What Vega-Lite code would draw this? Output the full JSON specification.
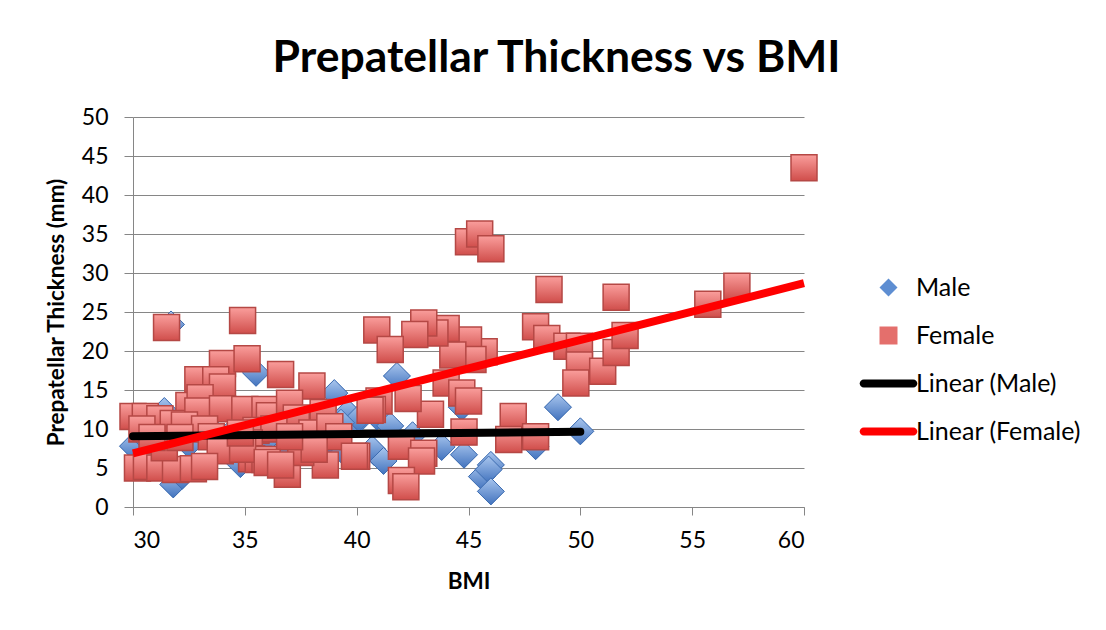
{
  "$schema": "https://vega.github.io/schema/vega-lite/v6.json",
  "autosize": {"type": "none"},
  "padding": {"left": 133, "top": 117, "right": 302, "bottom": 123},
  "width": 671,
  "height": 390,
  "background": "white",
  "config": {
    "view": {"stroke": null},
    "font": "Lato",
    "axis": {
      "domainColor": "#868686",
      "tickColor": "#868686",
      "gridColor": "#868686",
      "labelColor": "#000000",
      "labelFont": "Lato",
      "labelFontSize": 23,
      "titleFont": "Lato",
      "titleFontWeight": "bold",
      "titleFontSize": 22.5,
      "titleColor": "#000000"
    },
    "legend": {
      "symbolSize": 324,
      "symbolStrokeWidth": 0,
      "symbolOpacity": 1,
      "labelFont": "Lato",
      "labelFontSize": 25,
      "labelColor": "#000000",
      "labelOffset": 15,
      "labelLimit": 400,
      "rowPadding": 22,
      "padding": 0
    }
  },
  "title": {
    "text": "Prepatellar Thickness vs BMI",
    "font": "Lato",
    "fontSize": 44.5,
    "fontWeight": "bold",
    "color": "#000000",
    "anchor": "middle",
    "frame": "group",
    "baseline": "alphabetic",
    "offset": 45,
    "dx": 88,
    "dy": 55
  },
  "datasets": {
    "male": [
      {"series": "Male", "BMI": 30.0, "thickness": 7.8},
      {"series": "Male", "BMI": 31.7, "thickness": 23.4},
      {"series": "Male", "BMI": 31.4, "thickness": 12.3},
      {"series": "Male", "BMI": 31.8, "thickness": 2.9},
      {"series": "Male", "BMI": 32.2, "thickness": 4.0},
      {"series": "Male", "BMI": 34.8, "thickness": 6.1},
      {"series": "Male", "BMI": 34.8, "thickness": 5.5},
      {"series": "Male", "BMI": 35.5, "thickness": 17.2},
      {"series": "Male", "BMI": 39.0, "thickness": 14.6},
      {"series": "Male", "BMI": 39.6, "thickness": 12.1},
      {"series": "Male", "BMI": 39.9, "thickness": 10.6},
      {"series": "Male", "BMI": 40.1, "thickness": 11.4},
      {"series": "Male", "BMI": 40.9, "thickness": 11.6},
      {"series": "Male", "BMI": 39.3, "thickness": 10.8},
      {"series": "Male", "BMI": 39.3, "thickness": 7.4},
      {"series": "Male", "BMI": 40.8, "thickness": 7.0},
      {"series": "Male", "BMI": 40.7, "thickness": 7.4},
      {"series": "Male", "BMI": 41.2, "thickness": 5.9},
      {"series": "Male", "BMI": 41.5, "thickness": 10.4},
      {"series": "Male", "BMI": 41.8, "thickness": 16.8},
      {"series": "Male", "BMI": 43.8, "thickness": 7.7},
      {"series": "Male", "BMI": 44.8, "thickness": 6.7},
      {"series": "Male", "BMI": 44.7, "thickness": 12.8},
      {"series": "Male", "BMI": 45.6, "thickness": 3.9},
      {"series": "Male", "BMI": 46.0, "thickness": 5.4},
      {"series": "Male", "BMI": 45.9, "thickness": 4.8},
      {"series": "Male", "BMI": 46.0, "thickness": 2.0},
      {"series": "Male", "BMI": 48.0, "thickness": 7.8},
      {"series": "Male", "BMI": 49.0, "thickness": 12.8},
      {"series": "Male", "BMI": 50.0, "thickness": 9.7},
      {"series": "Male", "BMI": 30.5, "thickness": 9.0},
      {"series": "Male", "BMI": 31.0, "thickness": 6.0},
      {"series": "Male", "BMI": 32.5, "thickness": 8.0},
      {"series": "Male", "BMI": 33.5, "thickness": 10.0},
      {"series": "Male", "BMI": 34.2, "thickness": 9.0},
      {"series": "Male", "BMI": 36.0, "thickness": 8.5},
      {"series": "Male", "BMI": 37.5, "thickness": 9.5},
      {"series": "Male", "BMI": 38.2, "thickness": 10.5},
      {"series": "Male", "BMI": 36.8, "thickness": 7.5},
      {"series": "Male", "BMI": 33.0, "thickness": 11.5},
      {"series": "Male", "BMI": 38.8, "thickness": 8.7},
      {"series": "Male", "BMI": 42.5, "thickness": 9.2}
    ],
    "female": [
      {"series": "Female", "BMI": 60.0, "thickness": 43.5},
      {"series": "Female", "BMI": 57.0, "thickness": 28.3},
      {"series": "Female", "BMI": 55.7, "thickness": 26.0},
      {"series": "Female", "BMI": 51.6, "thickness": 26.9},
      {"series": "Female", "BMI": 48.6, "thickness": 27.9},
      {"series": "Female", "BMI": 48.0, "thickness": 23.1},
      {"series": "Female", "BMI": 48.5, "thickness": 21.6},
      {"series": "Female", "BMI": 49.4, "thickness": 20.6},
      {"series": "Female", "BMI": 49.96, "thickness": 20.6},
      {"series": "Female", "BMI": 49.96, "thickness": 18.2},
      {"series": "Female", "BMI": 49.8, "thickness": 15.9},
      {"series": "Female", "BMI": 51.0, "thickness": 17.4},
      {"series": "Female", "BMI": 51.6, "thickness": 19.8},
      {"series": "Female", "BMI": 52.0, "thickness": 22.0},
      {"series": "Female", "BMI": 45.0, "thickness": 34.0},
      {"series": "Female", "BMI": 45.5, "thickness": 35.0},
      {"series": "Female", "BMI": 46.0, "thickness": 33.1},
      {"series": "Female", "BMI": 45.7, "thickness": 19.9},
      {"series": "Female", "BMI": 45.0, "thickness": 21.4},
      {"series": "Female", "BMI": 45.2, "thickness": 18.9},
      {"series": "Female", "BMI": 44.3, "thickness": 19.5},
      {"series": "Female", "BMI": 44.0, "thickness": 22.9},
      {"series": "Female", "BMI": 43.5, "thickness": 22.3},
      {"series": "Female", "BMI": 43.0, "thickness": 23.6},
      {"series": "Female", "BMI": 42.6, "thickness": 22.1},
      {"series": "Female", "BMI": 40.9, "thickness": 22.7},
      {"series": "Female", "BMI": 41.5, "thickness": 20.2},
      {"series": "Female", "BMI": 44.0, "thickness": 15.9},
      {"series": "Female", "BMI": 44.7, "thickness": 14.6},
      {"series": "Female", "BMI": 45.0, "thickness": 13.6},
      {"series": "Female", "BMI": 43.3, "thickness": 11.9},
      {"series": "Female", "BMI": 42.3, "thickness": 13.9},
      {"series": "Female", "BMI": 41.0, "thickness": 13.6},
      {"series": "Female", "BMI": 40.7, "thickness": 12.5},
      {"series": "Female", "BMI": 44.8, "thickness": 9.6},
      {"series": "Female", "BMI": 47.0, "thickness": 11.6},
      {"series": "Female", "BMI": 46.8, "thickness": 8.65},
      {"series": "Female", "BMI": 48.0, "thickness": 9.0},
      {"series": "Female", "BMI": 42.0, "thickness": 7.8},
      {"series": "Female", "BMI": 43.0, "thickness": 6.9},
      {"series": "Female", "BMI": 42.9, "thickness": 5.9},
      {"series": "Female", "BMI": 42.0, "thickness": 3.4},
      {"series": "Female", "BMI": 42.2, "thickness": 2.6},
      {"series": "Female", "BMI": 40.0, "thickness": 6.5},
      {"series": "Female", "BMI": 38.6, "thickness": 5.4},
      {"series": "Female", "BMI": 31.5, "thickness": 23.0},
      {"series": "Female", "BMI": 34.9, "thickness": 23.9},
      {"series": "Female", "BMI": 34.0, "thickness": 18.4},
      {"series": "Female", "BMI": 35.1, "thickness": 19.0},
      {"series": "Female", "BMI": 36.6, "thickness": 17.0},
      {"series": "Female", "BMI": 38.0, "thickness": 15.5},
      {"series": "Female", "BMI": 32.9, "thickness": 16.3},
      {"series": "Female", "BMI": 33.7, "thickness": 16.3},
      {"series": "Female", "BMI": 34.0, "thickness": 15.4},
      {"series": "Female", "BMI": 32.5, "thickness": 13.0},
      {"series": "Female", "BMI": 33.0, "thickness": 14.0},
      {"series": "Female", "BMI": 30.0, "thickness": 11.6},
      {"series": "Female", "BMI": 30.55, "thickness": 11.6},
      {"series": "Female", "BMI": 31.2, "thickness": 11.3},
      {"series": "Female", "BMI": 31.8, "thickness": 10.7},
      {"series": "Female", "BMI": 32.9, "thickness": 12.3},
      {"series": "Female", "BMI": 34.0, "thickness": 12.6},
      {"series": "Female", "BMI": 35.0, "thickness": 12.5},
      {"series": "Female", "BMI": 35.9, "thickness": 12.5},
      {"series": "Female", "BMI": 36.1, "thickness": 11.7},
      {"series": "Female", "BMI": 37.0, "thickness": 13.3},
      {"series": "Female", "BMI": 37.3, "thickness": 11.4},
      {"series": "Female", "BMI": 38.5, "thickness": 12.1},
      {"series": "Female", "BMI": 40.6, "thickness": 12.4},
      {"series": "Female", "BMI": 30.4, "thickness": 10.0},
      {"series": "Female", "BMI": 32.3, "thickness": 10.5},
      {"series": "Female", "BMI": 33.2, "thickness": 10.0},
      {"series": "Female", "BMI": 33.5, "thickness": 9.0},
      {"series": "Female", "BMI": 35.5, "thickness": 9.8},
      {"series": "Female", "BMI": 36.3, "thickness": 10.0},
      {"series": "Female", "BMI": 38.0, "thickness": 9.5},
      {"series": "Female", "BMI": 38.8, "thickness": 10.3},
      {"series": "Female", "BMI": 37.7, "thickness": 8.0},
      {"series": "Female", "BMI": 39.2, "thickness": 9.0},
      {"series": "Female", "BMI": 35.2, "thickness": 8.2},
      {"series": "Female", "BMI": 33.9, "thickness": 7.2},
      {"series": "Female", "BMI": 30.2, "thickness": 5.0},
      {"series": "Female", "BMI": 30.6, "thickness": 5.2},
      {"series": "Female", "BMI": 31.2, "thickness": 5.0},
      {"series": "Female", "BMI": 31.9, "thickness": 4.8},
      {"series": "Female", "BMI": 32.7, "thickness": 4.9},
      {"series": "Female", "BMI": 33.2, "thickness": 5.2},
      {"series": "Female", "BMI": 31.4, "thickness": 7.6},
      {"series": "Female", "BMI": 32.1, "thickness": 8.9},
      {"series": "Female", "BMI": 30.85, "thickness": 8.9},
      {"series": "Female", "BMI": 35.3, "thickness": 6.2},
      {"series": "Female", "BMI": 35.6, "thickness": 6.1},
      {"series": "Female", "BMI": 35.9, "thickness": 6.1},
      {"series": "Female", "BMI": 36.9, "thickness": 4.2},
      {"series": "Female", "BMI": 37.5, "thickness": 7.0},
      {"series": "Female", "BMI": 38.1, "thickness": 7.4},
      {"series": "Female", "BMI": 39.9, "thickness": 6.5},
      {"series": "Female", "BMI": 34.9, "thickness": 7.4},
      {"series": "Female", "BMI": 37.0, "thickness": 9.0},
      {"series": "Female", "BMI": 34.8, "thickness": 9.5},
      {"series": "Female", "BMI": 36.0, "thickness": 5.7},
      {"series": "Female", "BMI": 36.6, "thickness": 5.4}
    ],
    "trend": [
      {"series": "Linear (Male)", "BMI": 30, "thickness": 9.08},
      {"series": "Linear (Male)", "BMI": 50, "thickness": 9.64},
      {"series": "Linear (Female)", "BMI": 30, "thickness": 6.86},
      {"series": "Linear (Female)", "BMI": 60, "thickness": 28.7}
    ]
  },
  "encoding": {
    "x": {
      "field": "BMI",
      "type": "quantitative",
      "scale": {"domain": [30, 60], "nice": false, "zero": false},
      "axis": {
        "title": "BMI",
        "values": [30, 35, 40, 45, 50, 55, 60],
        "grid": false,
        "tickSize": 8,
        "labelPadding": 14,
        "titlePadding": 18
      }
    },
    "y": {
      "field": "thickness",
      "type": "quantitative",
      "scale": {"domain": [0, 50], "nice": false},
      "axis": {
        "title": "Prepatellar Thickness (mm)",
        "values": [0, 5, 10, 15, 20, 25, 30, 35, 40, 45, 50],
        "grid": true,
        "tickSize": 9,
        "labelPadding": 16,
        "titlePadding": 13
      }
    }
  },
  "layer": [
    {
      "data": {"name": "male"},
      "mark": {"type": "point", "filled": true, "opacity": 1, "size": 729, "strokeWidth": 0},
      "encoding": {
        "color": {
          "field": "series",
          "type": "nominal",
          "scale": {
            "domain": ["Male", "Female", "Linear (Male)", "Linear (Female)"],
            "range": ["#5E8ED2", "#E46F6C", "#000000", "#FF0000"]
          },
          "legend": {"title": null, "orient": "none", "legendX": 743, "legendY": 158}
        },
        "shape": {
          "field": "series",
          "type": "nominal",
          "scale": {
            "domain": ["Male", "Female", "Linear (Male)", "Linear (Female)"],
            "range": ["diamond", "square", "M-2.75,-0.45H2.75A0.45,0.45 0 0 1 2.75,0.45H-2.75A0.45,0.45 0 0 1 -2.75,-0.45Z", "M-2.75,-0.45H2.75A0.45,0.45 0 0 1 2.75,0.45H-2.75A0.45,0.45 0 0 1 -2.75,-0.45Z"]
          },
          "legend": {"title": null, "orient": "none", "legendX": 743, "legendY": 158}
        }
      }
    },
    {
      "data": {"name": "male"},
      "mark": {
        "type": "point",
        "shape": "diamond",
        "filled": true,
        "opacity": 1,
        "size": 729,
        "fill": {
          "gradient": "linear", "x1": 0, "y1": 0, "x2": 0, "y2": 1,
          "stops": [{"offset": 0, "color": "#A9C6EE"}, {"offset": 1, "color": "#4273BE"}]
        },
        "stroke": "#3D6CB0",
        "strokeWidth": 1
      }
    },
    {
      "data": {"name": "female"},
      "mark": {"type": "point", "filled": true, "opacity": 1, "size": 676, "strokeWidth": 0},
      "encoding": {
        "color": {"field": "series", "type": "nominal"},
        "shape": {"field": "series", "type": "nominal"}
      }
    },
    {
      "data": {"name": "female"},
      "mark": {
        "type": "point",
        "shape": "square",
        "filled": true,
        "opacity": 1,
        "size": 676,
        "fill": {
          "gradient": "linear", "x1": 0, "y1": 0, "x2": 0, "y2": 1,
          "stops": [{"offset": 0, "color": "#FA9E9C"}, {"offset": 1, "color": "#D04E4B"}]
        },
        "stroke": "#B54845",
        "strokeWidth": 1.5
      }
    },
    {
      "data": {"name": "trend"},
      "transform": [{"filter": "datum.series === 'Linear (Male)'"}],
      "mark": {"type": "line", "color": "#000000", "strokeWidth": 8, "strokeCap": "round"},
      "encoding": {}
    },
    {
      "data": {"name": "trend"},
      "transform": [{"filter": "datum.series === 'Linear (Female)'"}],
      "mark": {"type": "line", "color": "#FF0000", "strokeWidth": 8, "strokeCap": "butt"},
      "encoding": {}
    }
  ]
}
